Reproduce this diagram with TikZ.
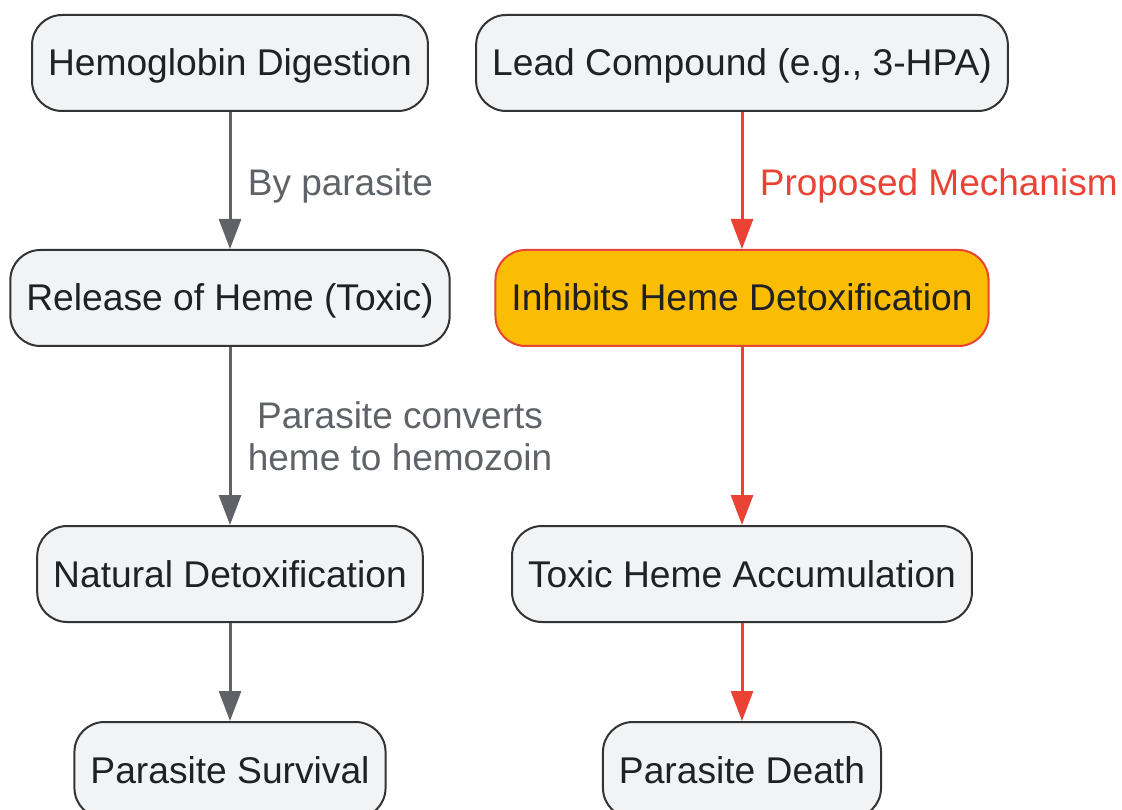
\documentclass[tikz,border=0pt]{standalone}
\usepackage{fontspec}
\setmainfont{Liberation Sans}
\usetikzlibrary{positioning,arrows.meta}
\definecolor{boxfill}{HTML}{F1F3F4}
\definecolor{boxline}{HTML}{333333}
\definecolor{txt}{HTML}{202124}
\definecolor{flowgray}{HTML}{5F6368}
\definecolor{flowred}{HTML}{EA4335}
\definecolor{amber}{HTML}{FBBC04}
\tikzstyle{stage} = [rectangle, draw=boxline, fill=boxfill, line width=2pt,
    rounded corners=30pt, minimum height=96pt, inner xsep=16pt,
    text height=30pt, text depth=4pt, text=txt, font=\fontsize{37.2}{44}\selectfont]
\tikzstyle{hilite} = [stage, draw=flowred, fill=amber]
\tikzstyle{flow} = [draw=flowgray, line width=3pt, -{Triangle[length=30pt,width=22pt]}]
\tikzstyle{redflow} = [flow, draw=flowred]
\tikzstyle{note} = [font=\fontsize{37}{42}\selectfont, align=center, xshift=13pt, yshift=-5pt]

\begin{document}
\begin{tikzpicture}
\useasboundingbox (0,0) rectangle (1122pt,-810pt);
%% Place nodes
\node [stage] (hemo) at (230pt,-63pt) {Hemoglobin Digestion};
\node [stage, below=137pt of hemo] (release) {Release of Heme (Toxic)};
\node [stage, below=178pt of release] (natural) {Natural Detoxification};
\node [stage, below=98pt of natural] (survival) {Parasite Survival};
\node [stage] (lead) at (742pt,-63pt) {Lead Compound (e.g., 3-HPA)};
\node [hilite, below=137pt of lead] (inhibit) {Inhibits Heme Detoxification};
\node [stage, below=178pt of inhibit] (toxic) {Toxic Heme Accumulation};
\node [stage, below=98pt of toxic] (death) {Parasite Death};

%% Draw lines between boxes
\path [flow] (hemo) -- node [note, right, text=flowgray] {By parasite} (release);
\path [flow] (release) -- node [note, right, text=flowgray, yshift=5pt] {Parasite converts\\heme to hemozoin} (natural);
\path [flow] (natural) -- (survival);
\path [redflow] (lead) -- node [note, right, text=flowred] {Proposed Mechanism} (inhibit);
\path [redflow] (inhibit) -- (toxic);
\path [redflow] (toxic) -- (death);
\end{tikzpicture}
\end{document}
